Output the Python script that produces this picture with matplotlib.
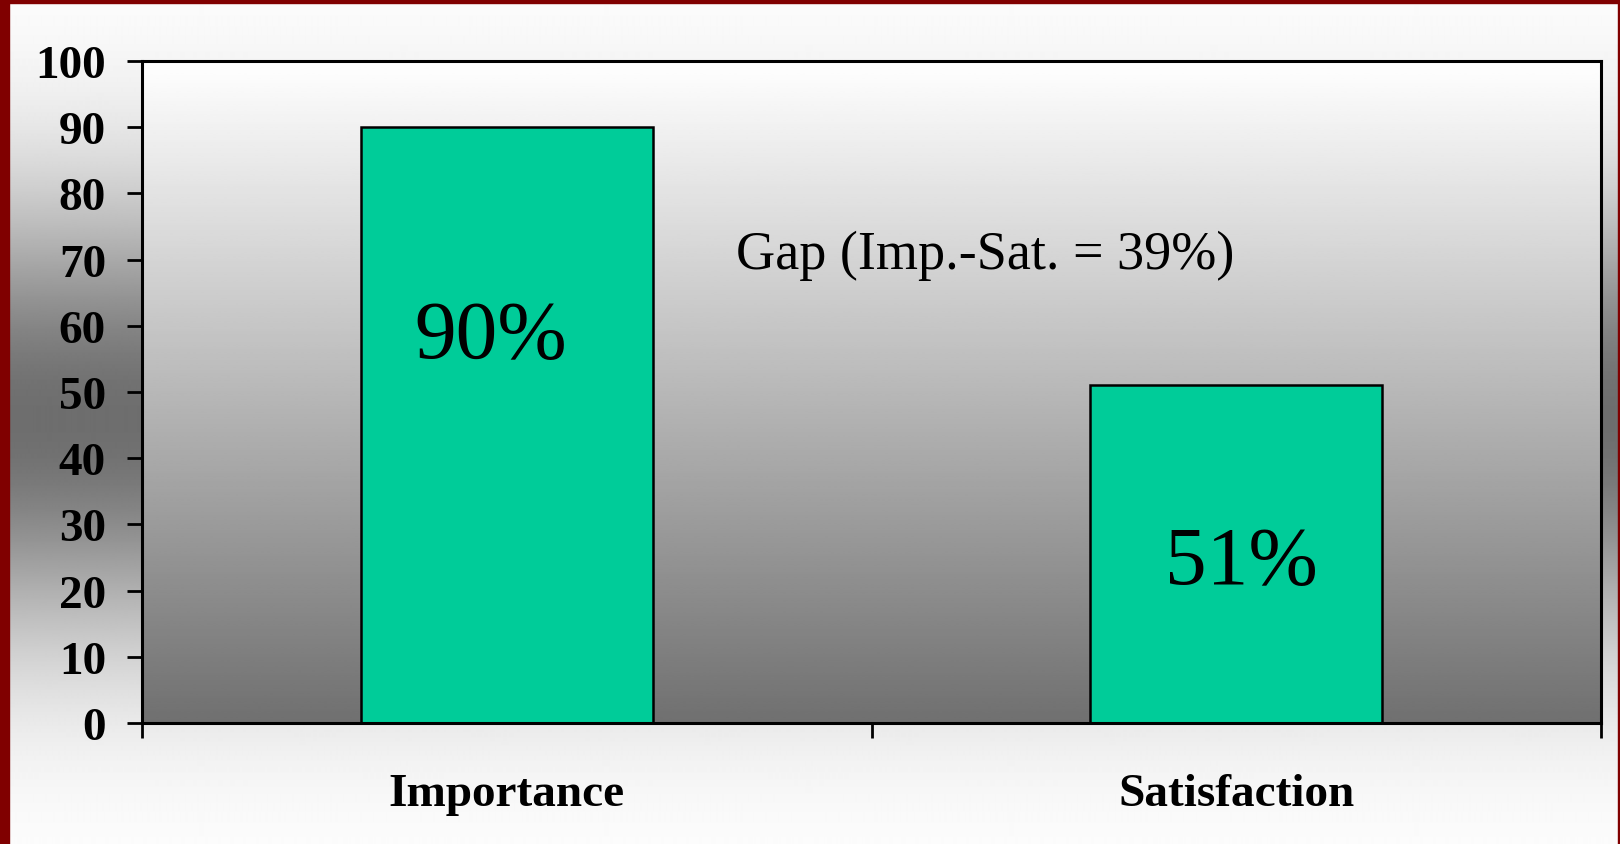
import numpy as np
import matplotlib
matplotlib.use("Agg")
import matplotlib.pyplot as plt
from matplotlib.patches import Rectangle

categories = ["Importance", "Satisfaction"]
values = [90, 51]
value_labels = ["90%", "51%"]
label_y = [58.3, 24.2]
label_dx = [-0.022, 0.007]
yticks = [0, 10, 20, 30, 40, 50, 60, 70, 80, 90, 100]
gap_text = "Gap (Imp.-Sat. = 39%)"

W, H, DPI = 1620, 845, 100
fig = plt.figure(figsize=(W / DPI, H / DPI), dpi=DPI)
fig.patch.set_facecolor("white")

# figure background gradient (white -> dark gray at middle -> white)
yy = np.arange(H)
d = yy - 420.0
v = (110 + 145 * (1 - np.exp(-(d / 220.0) ** 2))) / 255.0
bg = np.repeat(v[:, None], 4, axis=1)
bgax = fig.add_axes([0, 0, 1, 1], zorder=-10)
bgax.imshow(bg, cmap="gray", vmin=0, vmax=1, aspect="auto", extent=[0, 1, 0, 1], interpolation="bilinear")
bgax.set_axis_off()

# dark red border
red = "#800000"
fig.patches.append(Rectangle((0, 0), 9 / W, 1, transform=fig.transFigure, color=red, zorder=5))
fig.patches.append(Rectangle((0, 1 - 4 / H), 1, 4 / H, transform=fig.transFigure, color=red, zorder=5))
fig.patches.append(Rectangle((1 - 2 / W, 0), 2 / W, 1, transform=fig.transFigure, color=red, zorder=5))

ax = fig.add_axes([142 / W, 1 - 724 / H, (1601 - 142) / W, (724 - 62) / H])
ax.set_facecolor("none")
# axes gradient
g = np.linspace(1.0, 112 / 255, 256)[:, None]
ax.imshow(np.repeat(g, 2, axis=1), cmap="gray", vmin=0, vmax=1, aspect="auto",
          extent=[0, 1, 0, 1], transform=ax.transAxes, zorder=0, interpolation="bilinear")

x = np.arange(len(categories))
ax.bar(x, values, width=0.4, color="#00CC99", edgecolor="black", linewidth=1.8, zorder=2)
ax.set_xlim(-0.5, 1.5)
ax.set_ylim(0, 100)

serif = ["Liberation Serif", "DejaVu Serif"]
for xi, lab, ly, dx in zip(x, value_labels, label_y, label_dx):
    ax.text(xi + dx, ly, lab, ha="center", va="center", fontsize=60, family=serif, zorder=3)

ax.text(0.656, 70.8, gap_text, ha="center", va="center", fontsize=39, family=serif, zorder=3)

ax.set_yticks(yticks)
ax.set_yticklabels([str(t) for t in yticks], fontsize=34, fontweight="bold", family=serif)
ax.tick_params(axis="y", length=11, width=2, pad=15, direction="out")

ax.set_xticks([-0.5, 0.5, 1.5])
ax.set_xticklabels([])
ax.tick_params(axis="x", which="major", length=10.5, width=2, direction="out")
ax.set_xticks(x, minor=True)
ax.set_xticklabels(categories, minor=True, fontsize=34, fontweight="bold", family=serif)
ax.tick_params(axis="x", which="minor", length=0, pad=36)

for s in ax.spines.values():
    s.set_linewidth(2.2)
    s.set_color("black")
    s.set_zorder(4)

fig.savefig("out.png", dpi=DPI)
